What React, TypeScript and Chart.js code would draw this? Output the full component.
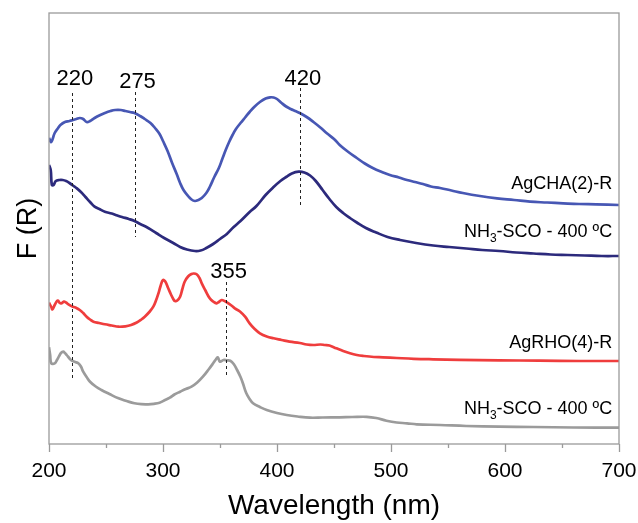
import React, { useEffect, useRef } from "react";
import { Chart, registerables } from "chart.js";
Chart.register(...registerables);

const FONT = '"Liberation Sans", Arial, Helvetica, sans-serif';

// AgCHA(2)-R
const cha2X = [200,202,205,208,210,214,218,221,224,227,230,233,236,240,245,249,254,258,263,267,271,275,280,284,289,293,297,300,304,308,312,315,318,322,325,328,331,334,338,341,345,349,352,355,358,361,364,368,372,376,380,385,390,394,397,400,404,408,412,416,420,426,432,438,444,450,455,462,470,477,484,492,499,507,514,521,528,535,543,553,563,578,593,608,622,637,651,665,680,700];
const cha2Y = [3.06,3.02,3.11,3.16,3.19,3.22,3.23,3.24,3.25,3.26,3.25,3.22,3.23,3.26,3.29,3.31,3.33,3.34,3.34,3.33,3.32,3.31,3.28,3.25,3.21,3.16,3.10,3.03,2.93,2.81,2.70,2.61,2.54,2.48,2.445,2.43,2.44,2.46,2.51,2.57,2.67,2.76,2.85,2.94,3.02,3.09,3.15,3.21,3.265,3.32,3.37,3.42,3.455,3.467,3.465,3.45,3.41,3.375,3.35,3.33,3.31,3.27,3.22,3.165,3.105,3.05,2.99,2.925,2.86,2.805,2.76,2.72,2.69,2.665,2.64,2.62,2.60,2.575,2.56,2.535,2.51,2.48,2.457,2.44,2.423,2.415,2.407,2.40,2.397,2.39];

// NH3-SCO - 400 ºC (AgCHA)
const chaScoX = [200,201.5,202.5,204,206,209,212,215,218,221,224,228,232,236,240,245,249,255,260,264,270,275,280,287,294,301,309,315,321,328,333,338,344,350,356,362,368,376,382,390,397,403,408,413,419,424,429,434,440,446,452,458,464,470,478,487,497,508,522,537,551,566,580,595,610,625,640,655,670,685,700];
const chaScoY = [2.79,2.74,2.59,2.59,2.63,2.64,2.64,2.63,2.61,2.585,2.56,2.52,2.47,2.42,2.373,2.345,2.323,2.305,2.285,2.27,2.25,2.23,2.20,2.16,2.11,2.06,2.01,1.97,1.945,1.93,1.935,1.96,2.00,2.05,2.10,2.17,2.23,2.32,2.38,2.49,2.57,2.63,2.67,2.705,2.723,2.715,2.685,2.63,2.54,2.45,2.37,2.31,2.26,2.215,2.16,2.115,2.07,2.04,2.01,1.985,1.97,1.955,1.94,1.93,1.915,1.905,1.895,1.89,1.885,1.88,1.88];

// AgRHO(4)-R
const rho4X = [200,202,203,205,207,208,209.5,211,213,215,217,221,224,227,230,233,236,239,244,249,255,261,267,272,277,281,284,288,291.5,294,296,298,300,302,304.6,307,309,310.5,312.5,315,317,319,322,325,327,329.5,332,334,337,341,344,347,349,351.5,354,356,360,363,367.5,372,376,380,385,391,397,404,411,420,426,432,438,442,446,452,458,464,470,476,485,493,505,520,537,560,595,630,665,700];
const rho4Y = [1.413,1.37,1.347,1.39,1.43,1.433,1.41,1.407,1.423,1.415,1.397,1.373,1.36,1.34,1.31,1.273,1.245,1.223,1.21,1.197,1.185,1.173,1.177,1.19,1.215,1.245,1.273,1.32,1.373,1.44,1.507,1.585,1.64,1.625,1.557,1.495,1.45,1.43,1.435,1.473,1.55,1.623,1.675,1.70,1.705,1.697,1.66,1.607,1.54,1.457,1.425,1.407,1.42,1.44,1.43,1.417,1.385,1.357,1.325,1.273,1.207,1.155,1.107,1.075,1.057,1.04,1.023,1.01,0.995,0.99,0.995,0.99,0.985,0.957,0.93,0.907,0.89,0.88,0.87,0.867,0.86,0.852,0.847,0.842,0.837,0.833,0.83,0.83];

// NH3-SCO - 400 ºC (AgRHO)
const rhoScoX = [200,201,202,205,207,208.6,210.5,212.5,214,215.5,218,220,223,225.7,228,230,233,236,241,246,253,261,268,275,281,287,292,297,301,306,310,315,320,325,330,335,340,344,346,348,350,353,356,359,362,365,368,370,373,376,379,385,391,400,408.5,418,429,440,455,466,478.7,487,496,505,514,522.5,543,566,595,625,660,700];
const rhoScoY = [0.967,0.89,0.807,0.807,0.84,0.873,0.91,0.923,0.91,0.89,0.855,0.833,0.82,0.807,0.775,0.723,0.67,0.623,0.575,0.54,0.50,0.457,0.43,0.407,0.398,0.397,0.402,0.413,0.435,0.463,0.495,0.523,0.55,0.573,0.615,0.673,0.745,0.807,0.84,0.867,0.823,0.84,0.837,0.833,0.80,0.74,0.67,0.61,0.51,0.45,0.407,0.37,0.34,0.31,0.29,0.275,0.263,0.265,0.267,0.27,0.272,0.26,0.233,0.215,0.207,0.197,0.19,0.18,0.173,0.17,0.165,0.163];

// peak markers
const peakLabels = ["220", "275", "420", "355"];
const peakX = [220, 275, 420, 355];
const peakTop = [3.51, 3.52, 3.56, 1.62];
const peakBottom = [0.66, 2.07, 2.39, 0.66];
const peakLabelY = [3.59, 3.565, 3.59, 1.66];

// curve labels (right-aligned at labelX)
const curveLabels = ["AgCHA(2)-R", "NH3-SCO - 400 ºC", "AgRHO(4)-R", "NH3-SCO - 400 ºC"];
const curveLabelY = [2.55, 2.075, 0.965, 0.30];
const labelX = 694;

const colors = ["#4757b4", "#2c2a7c", "#ef3d3d", "#9b9b9b"];

const xTickMajor = [200, 300, 400, 500, 600, 700];
const xTickMinor = [250, 350, 450, 550, 650];

function zip(xs: number[], ys: number[]) {
  return xs.map((x, i) => ({ x, y: ys[i] }));
}

function drawRich(ctx: CanvasRenderingContext2D, text: string, xRight: number, yBase: number, size: number) {
  const parts: { t: string; sub: boolean }[] = [];
  if (text.startsWith("NH3")) {
    parts.push({ t: "NH", sub: false }, { t: "3", sub: true }, { t: text.slice(3), sub: false });
  } else parts.push({ t: text, sub: false });
  const subSize = Math.round(size * 0.65);
  let total = 0;
  const widths = parts.map((p) => {
    ctx.font = `${p.sub ? subSize : size}px ${FONT}`;
    const w = ctx.measureText(p.t).width;
    total += w;
    return w;
  });
  let x = xRight - total;
  ctx.textAlign = "left";
  ctx.textBaseline = "alphabetic";
  parts.forEach((p, i) => {
    ctx.font = `${p.sub ? subSize : size}px ${FONT}`;
    ctx.fillText(p.t, x, p.sub ? yBase + size * 0.28 : yBase);
    x += widths[i];
  });
}

const overlay = {
  id: "overlay",
  afterDatasetsDraw(chart: any) {
    const { ctx, chartArea } = chart;
    const xs = chart.scales.x;
    const ys = chart.scales.y;
    ctx.save();
    ctx.strokeStyle = "#9a9a9a";
    ctx.lineWidth = 1.3;
    ctx.setLineDash([]);
    ctx.strokeRect(chartArea.left, chartArea.top, chartArea.right - chartArea.left, chartArea.bottom - chartArea.top);
    ctx.beginPath();
    xTickMajor.forEach((v) => {
      const px = Math.round(xs.getPixelForValue(v)) + 0.5;
      ctx.moveTo(px, chartArea.bottom);
      ctx.lineTo(px, chartArea.bottom + 8);
    });
    xTickMinor.forEach((v) => {
      const px = Math.round(xs.getPixelForValue(v)) + 0.5;
      ctx.moveTo(px, chartArea.bottom);
      ctx.lineTo(px, chartArea.bottom + 4);
    });
    ctx.stroke();
    ctx.strokeStyle = "#222";
    ctx.lineWidth = 1;
    ctx.setLineDash([3, 3]);
    peakX.forEach((v, i) => {
      const px = Math.round(xs.getPixelForValue(v)) + 0.5;
      ctx.beginPath();
      ctx.moveTo(px, ys.getPixelForValue(peakTop[i]));
      ctx.lineTo(px, ys.getPixelForValue(peakBottom[i]));
      ctx.stroke();
    });
    ctx.setLineDash([]);
    ctx.fillStyle = "#000";
    ctx.font = `22px ${FONT}`;
    ctx.textAlign = "center";
    ctx.textBaseline = "alphabetic";
    peakX.forEach((v, i) => {
      ctx.fillText(peakLabels[i], xs.getPixelForValue(v) + 3, ys.getPixelForValue(peakLabelY[i]));
    });
    curveLabels.forEach((t, i) => {
      drawRich(ctx, t, xs.getPixelForValue(labelX), ys.getPixelForValue(curveLabelY[i]), 18);
    });
    ctx.fillStyle = "#000";
    ctx.font = `28px ${FONT}`;
    ctx.textAlign = "center";
    ctx.textBaseline = "middle";
    ctx.fillText("Wavelength (nm)", (chartArea.left + chartArea.right) / 2, 506);
    ctx.save();
    ctx.translate(29, (chartArea.top + chartArea.bottom) / 2);
    ctx.rotate(-Math.PI / 2);
    ctx.font = `27px ${FONT}`;
    ctx.fillText("F (R)", 0, 0);
    ctx.restore();
    ctx.restore();
  },
};

export default function App() {
  const ref = useRef<HTMLCanvasElement>(null);
  useEffect(() => {
    const mk = (label: string, xs: number[], ys: number[], color: string) => ({
      label,
      data: zip(xs, ys),
      borderColor: color,
      backgroundColor: color,
      borderWidth: 2.7,
      pointRadius: 0,
      fill: false,
      tension: 0.4,
    });
    const chart = new Chart(ref.current!, {
      type: "line",
      data: {
        datasets: [
          mk("AgCHA(2)-R", cha2X, cha2Y, colors[0]),
          mk("NH3-SCO - 400 ºC", chaScoX, chaScoY, colors[1]),
          mk("AgRHO(4)-R", rho4X, rho4Y, colors[2]),
          mk("NH3-SCO - 400 ºC (RHO)", rhoScoX, rhoScoY, colors[3]),
        ],
      },
      options: {
        responsive: false,
        animation: false,
        layout: { padding: { left: 49, right: 19, top: 13, bottom: 0 } },
        plugins: { legend: { display: false }, tooltip: { enabled: false } },
        scales: {
          x: {
            type: "linear",
            min: 200,
            max: 700,
            border: { display: false },
            grid: { display: false, drawTicks: false },
            ticks: { stepSize: 100, font: { family: FONT, size: 21 }, color: "#000", padding: 15, maxRotation: 0 },
            afterFit: (s: any) => {
              s.height = 79;
              s.paddingLeft = 0;
              s.paddingRight = 0;
            },
          },
          y: { display: false, min: 0, max: 4.31 },
        },
      },
      plugins: [overlay],
    });
    return () => chart.destroy();
  }, []);
  return (
    <div style={{ position: "fixed", left: 0, top: 0, width: 638, height: 523, background: "#fff" }}>
      <canvas ref={ref} width={638} height={523} style={{ display: "block" }} />
    </div>
  );
}
